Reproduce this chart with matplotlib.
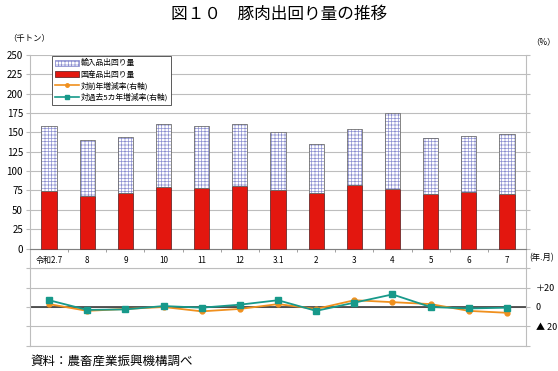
import matplotlib
matplotlib.use("Agg")
import matplotlib.pyplot as plt
from matplotlib.patches import Patch
from matplotlib.lines import Line2D
import numpy as np

plt.rcParams['font.family'] = ['Noto Sans CJK JP', 'DejaVu Sans']
plt.rcParams['hatch.linewidth'] = 0.5

categories = ["令和2.7", "8", "9", "10", "11", "12", "3.1", "2", "3", "4", "5", "6", "7"]
domestic = [74.5, 68, 71.5, 79.5, 78, 80.5, 76, 72, 81.5, 77, 71, 73, 71]
total = [158.5, 140.5, 144.5, 160.5, 158.5, 160.5, 150.5, 135, 154.5, 175, 142.5, 146, 148.5]
imports = [t - d for t, d in zip(total, domestic)]
yoy = [3, -4, -2, 0, -4.5, -2, 3, -2, 7, 5, 3, -4, -6]
vs5y = [7, -3, -2.5, 1, -0.7, 2.4, 7, -4, 4.5, 13, 0, -1.5, -0.7]

grid_c = '#BDBDBD'
red = '#E3170F'
hatch_c = '#8C8FD0'
orange = '#F0901E'
teal = '#17998A'

fig = plt.figure(figsize=(5.58, 3.71), dpi=100)
W, H = 558, 371
L, R = 30 / W, 526 / W
top_t, top_b = 1 - 55 / H, 1 - 268.3 / H
bot_t, bot_b = top_b, 1 - 345.7 / H

ax = fig.add_axes([L, top_b, R - L, top_t - top_b])
ax2 = fig.add_axes([L, bot_b, R - L, bot_t - bot_b])

x = np.arange(len(categories))
bw = 0.4
ax.bar(x, domestic, width=bw, color=red, edgecolor='#6d2a2a', linewidth=0.6, zorder=3)
ax.bar(x, imports, bottom=domestic, width=bw, color='white', edgecolor=hatch_c,
       hatch='+++++', linewidth=0, zorder=3)
ax.bar(x, imports, bottom=domestic, width=bw, color='none', edgecolor='#707070',
       linewidth=0.6, zorder=4)

ax.set_xlim(-0.5, len(categories) - 0.5)
ax.set_ylim(-25.5, 250)
ax.set_yticks(np.arange(0, 251, 25))
ax.tick_params(axis='y', labelsize=7, length=3, color=grid_c, pad=2, direction='out')
ax.yaxis.grid(True, color=grid_c, linewidth=0.8, zorder=0)
ax.set_axisbelow(True)
ax.spines['bottom'].set_position(('data', 0))
ax.spines['bottom'].set_color('#808080')
ax.spines['top'].set_visible(False)
ax.spines['left'].set_color(grid_c)
ax.spines['right'].set_color(grid_c)
ax.set_xticks(x)
ax.set_xticklabels(categories)
ax.tick_params(axis='x', which='major', length=0, labelsize=5.8, pad=5)
ax.set_xticks(np.arange(-0.5, len(categories), 1), minor=True)
ax.tick_params(axis='x', which='minor', length=2.5, color='#909090', direction='out')
ax.tick_params(axis='y', which='both', right=True)

# bottom panel
ax2.plot(x, yoy, color=orange, marker='o', markersize=3.5, linewidth=1.3, zorder=3)
ax2.plot(x, vs5y, color=teal, marker='s', markersize=4, linewidth=1.3, zorder=4)
ax2.axhline(0, color='#3a3a3a', linewidth=1.2, zorder=2)
ax2.set_xlim(-0.5, len(categories) - 0.5)
ax2.set_ylim(-40, 40)
ax2.set_yticks([-40, -20, 0, 20, 40])
ax2.yaxis.grid(True, color=grid_c, linewidth=0.8, zorder=0)
ax2.set_xticks([])
ax2.yaxis.tick_right()
ax2.set_yticklabels(['', '▲ 20', '0', '＋20', ''])
ax2.tick_params(axis='y', labelsize=6.5, length=3, color=grid_c, pad=4)
ax2.tick_params(axis='y', which='both', left=True)
for s in ['left', 'right', 'bottom', 'top']:
    ax2.spines[s].set_color(grid_c)

handles = [
    Patch(facecolor='white', edgecolor=hatch_c, hatch='+++++', linewidth=0.6),
    Patch(facecolor=red, edgecolor='#6d2a2a', linewidth=0.6),
    Line2D([0], [0], color=orange, marker='o', markersize=2.5, linewidth=1.2),
    Line2D([0], [0], color=teal, marker='s', markersize=2.5, linewidth=1.2),
]
labels = ['輸入品出回り量', '国産品出回り量', '対前年増減率(右軸)', '対過去5カ年増減率(右軸)']
leg = ax.legend(handles, labels, loc='upper left', bbox_to_anchor=(0.036, 1.015),
                fontsize=5.6, frameon=True, fancybox=False, edgecolor='#404040',
                handlelength=3.0, handleheight=0.8, labelspacing=0.4,
                borderpad=0.45, handletextpad=0.25, framealpha=1)
leg.get_frame().set_linewidth(0.6)
leg.set_zorder(10)

fig.text(0.5, 1 - 14 / H, '図１０　豚肉出回り量の推移', ha='center', va='center', fontsize=12)
fig.text(8 / W, 1 - 39 / H, '（千トン）', ha='left', va='center', fontsize=6)
fig.text(531 / W, 1 - 42 / H, '（%）', ha='left', va='center', fontsize=6)
fig.text(529 / W, 1 - 258 / H, '(年.月)', ha='left', va='center', fontsize=6)
fig.text(30 / W, 1 - 361 / H, '資料：農畜産業振興機構調べ', ha='left', va='center', fontsize=9)

fig.savefig('out.png', dpi=100)
